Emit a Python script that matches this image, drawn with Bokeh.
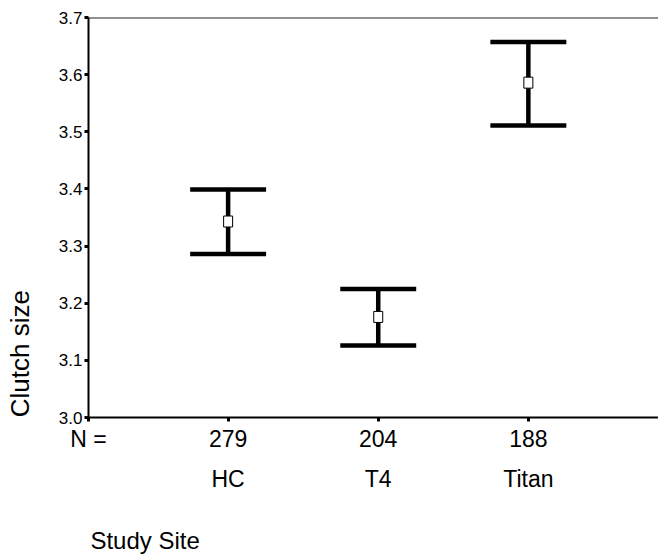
from bokeh.plotting import figure
from bokeh.models import (ColumnDataSource, FixedTicker, LinearAxis, Span, Range1d)
from bokeh.embed import file_html
from bokeh.resources import INLINE

# ---- data ----
sites = ["HC", "T4", "Titan"]
n_counts = ["279", "204", "188"]
n_label = "N ="
x_title = "Study Site"
y_title = "Clutch size"
site_pos = [1, 2, 3]
means = [3.343, 3.176, 3.586]
upper = [3.399, 3.225, 3.657]
lower = [3.286, 3.126, 3.511]
y_ticks = [3.0, 3.1, 3.2, 3.3, 3.4, 3.5, 3.6, 3.7]

FONT = "Liberation Sans"
cap_half = 0.253
x_lo, x_hi = 0.07, 3.867
n_pos = 0.0701
x_title_pos = 0.447
y_title_pos = 3.1117

src = ColumnDataSource(dict(
    x=site_pos, mean=means, up=upper, lo=lower,
    xl=[v - cap_half for v in site_pos], xr=[v + cap_half for v in site_pos],
))

p = figure(width=658, height=556, output_backend="svg", toolbar_location=None,
           x_range=Range1d(x_lo, x_hi), y_range=Range1d(3.0, 3.7),
           min_border_left=88, min_border_right=0, min_border_top=17,
           min_border_bottom=138, x_axis_location=None, y_axis_location=None)
p.outline_line_color = None
p.xgrid.visible = False
p.ygrid.visible = False
p.background_fill_color = "white"
p.border_fill_color = "white"

# y axis
yax = LinearAxis(ticker=FixedTicker(ticks=y_ticks))
yax.major_label_overrides = {t: f"{t:.1f}" for t in y_ticks}
yax.axis_line_width = 2
yax.axis_line_color = "black"
yax.major_tick_in = 0
yax.major_tick_out = 4
yax.major_tick_line_width = 3
yax.minor_tick_line_color = None
yax.major_label_text_font = FONT
yax.major_label_text_font_size = "17px"
yax.major_label_text_color = "black"
yax.major_label_standoff = 2
p.add_layout(yax, "left")

# y title as a single vertical label axis
yax2 = LinearAxis(ticker=FixedTicker(ticks=[y_title_pos]))
yax2.major_label_overrides = {y_title_pos: y_title}
yax2.major_label_orientation = "vertical"
yax2.axis_line_color = None
yax2.major_tick_line_color = None
yax2.major_tick_in = 0
yax2.major_tick_out = 0
yax2.minor_tick_line_color = None
yax2.major_label_text_font = FONT
yax2.major_label_text_font_size = "26px"
yax2.major_label_text_color = "black"
yax2.major_label_standoff = 20
p.add_layout(yax2, "left")

# x axis: N counts (with "N =" at the left corner)
xax = LinearAxis(ticker=FixedTicker(ticks=[n_pos] + site_pos))
overrides = {k: v for k, v in zip(site_pos, n_counts)}
overrides[n_pos] = n_label
xax.major_label_overrides = overrides
xax.axis_line_width = 2
xax.axis_line_color = "black"
xax.major_tick_in = 0
xax.major_tick_out = 4
xax.major_tick_line_width = 3
xax.minor_tick_line_color = None
xax.major_label_text_font = FONT
xax.major_label_text_font_size = "23px"
xax.major_label_text_color = "black"
xax.major_label_standoff = 4
p.add_layout(xax, "below")

# x axis: site names
xax2 = LinearAxis(ticker=FixedTicker(ticks=site_pos))
xax2.major_label_overrides = {k: v for k, v in zip(site_pos, sites)}
xax2.axis_line_color = None
xax2.major_tick_line_color = None
xax2.minor_tick_line_color = None
xax2.major_label_text_font = FONT
xax2.major_label_text_font_size = "23px"
xax2.major_label_text_color = "black"
xax2.major_label_standoff = 5
p.add_layout(xax2, "below")

# x title as a single-label axis (left-aligned under the frame)
xax3 = LinearAxis(ticker=FixedTicker(ticks=[x_title_pos]))
xax3.major_label_overrides = {x_title_pos: x_title}
xax3.axis_line_color = None
xax3.major_tick_line_color = None
xax3.minor_tick_line_color = None
xax3.major_label_text_font = FONT
xax3.major_label_text_font_size = "24px"
xax3.major_label_text_color = "black"
xax3.major_label_standoff = 26
p.add_layout(xax3, "below")

# top frame line
p.add_layout(Span(location=3.7, dimension="width", line_color="#222222", line_width=2))

# error bars
p.segment(x0="x", y0="lo", x1="x", y1="up", source=src, line_color="black", line_width=4.5)
p.segment(x0="xl", y0="up", x1="xr", y1="up", source=src, line_color="black", line_width=4.5)
p.segment(x0="xl", y0="lo", x1="xr", y1="lo", source=src, line_color="black", line_width=4.5)
p.rect(x="x", y="mean", width=9, height=11, width_units="screen", height_units="screen",
       source=src, fill_color="white", line_color="black", line_width=1)

open("out.html", "w").write(file_html(p, INLINE))
